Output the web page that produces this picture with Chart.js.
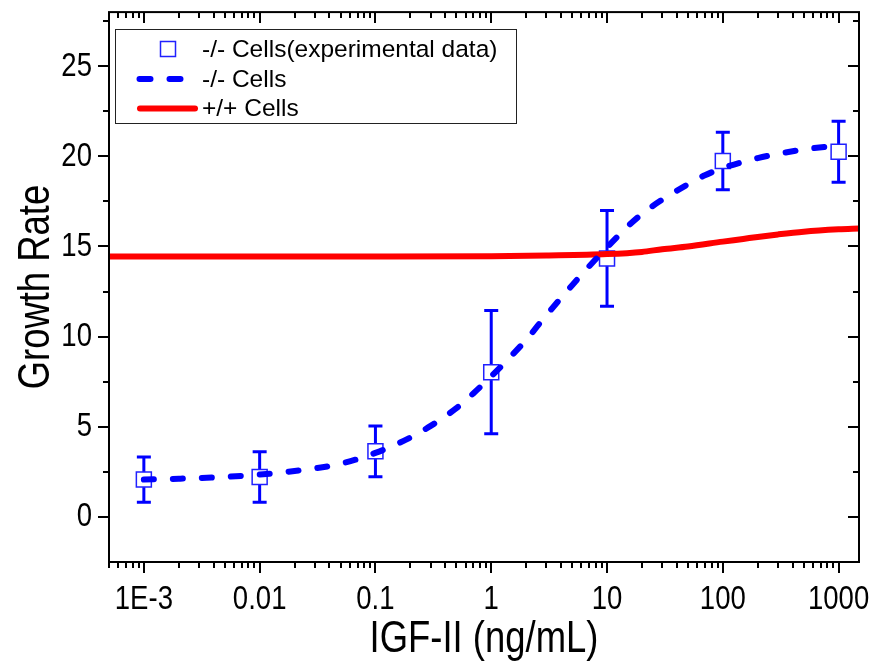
<!DOCTYPE html>
<html><head><meta charset="utf-8">
<script src="https://cdn.jsdelivr.net/npm/chart.js@4"></script>
<style>html,body{margin:0;padding:0;background:#fff}canvas{display:block}</style>
</head><body>
<canvas id="c" width="878" height="671"></canvas>
<script>
// Experimental data (-/- cells)
const expX = [0.001, 0.01, 0.1, 1, 10, 100, 1000];
const expY = [2.07, 2.22, 3.64, 8.03, 14.34, 19.74, 20.25];
const expErr = [1.25, 1.40, 1.41, 3.42, 2.65, 1.59, 1.69];
// Fitted curve -/- cells
const koX = [0.001, 0.002, 0.005, 0.01, 0.02, 0.05, 0.1, 0.2, 0.3, 0.5, 0.7, 1, 1.5, 2, 3, 5, 7, 10, 15, 20, 30, 50, 70, 100, 200, 500, 1000];
const koY = [2.07, 2.12, 2.22, 2.35, 2.55, 2.95, 3.55, 4.40, 5.05, 6.03, 6.85, 7.80, 8.95, 9.82, 11.20, 12.85, 13.90, 14.95, 16.10, 16.80, 17.60, 18.45, 18.95, 19.35, 19.90, 20.38, 20.60];
// Fitted curve +/+ cells
const wtX = [0.0005, 0.001, 0.01, 0.1, 1, 3, 10, 20, 30, 50, 100, 150, 200, 300, 500, 1000, 1500];
const wtY = [14.44, 14.44, 14.44, 14.45, 14.46, 14.50, 14.58, 14.70, 14.85, 15.00, 15.27, 15.42, 15.53, 15.67, 15.82, 15.95, 16.00];
// Axis ticks and texts
const xTickValues = [0.001, 0.01, 0.1, 1, 10, 100, 1000];
const xTickLabels = ['1E-3', '0.01', '0.1', '1', '10', '100', '1000'];
const yTickValues = [0, 5, 10, 15, 20, 25];
const yTickLabels = ['0', '5', '10', '15', '20', '25'];
const legendLabels = ['-/- Cells(experimental data)', '-/- Cells', '+/+ Cells'];
const xTitle = 'IGF-II (ng/mL)';
const yTitle = 'Growth Rate';

const FONT = "'Liberation Sans', Arial, sans-serif";
const BLUE = '#0000ff', RED = '#ff0000';
const SQX = 0.81; // condensed (Arial Narrow-like) axis text

const pts = (xs, ys) => xs.map((x, i) => ({x: x, y: ys[i]}));
const noPad = s => { s.paddingTop = 0; s.paddingBottom = 0; s.paddingLeft = 0; s.paddingRight = 0; };

function narrowText(ctx, text, x, y, size, align, baseline, rot) {
  ctx.save();
  ctx.translate(x, y);
  if (rot) ctx.rotate(rot);
  ctx.scale(SQX, 1);
  ctx.font = size + 'px ' + FONT;
  ctx.textAlign = align;
  ctx.textBaseline = baseline;
  ctx.fillStyle = '#000';
  ctx.fillText(text, 0, 0);
  ctx.restore();
}

const errorBars = {
  id: 'errorBars',
  beforeDatasetsDraw(chart) {
    const {ctx, scales: {x, y}} = chart;
    ctx.save();
    ctx.strokeStyle = BLUE;
    ctx.lineWidth = 3;
    ctx.lineCap = 'butt';
    for (let i = 0; i < expX.length; i++) {
      const px = x.getPixelForValue(expX[i]);
      const pt = y.getPixelForValue(expY[i] + expErr[i]);
      const pb = y.getPixelForValue(expY[i] - expErr[i]);
      ctx.beginPath();
      ctx.moveTo(px, pt); ctx.lineTo(px, pb);
      ctx.moveTo(px - 7, pt); ctx.lineTo(px + 7, pt);
      ctx.moveTo(px - 7, pb); ctx.lineTo(px + 7, pb);
      ctx.stroke();
    }
    ctx.restore();
  }
};

const frameTicks = {
  id: 'frameTicks',
  afterDraw(chart) {
    const {ctx, chartArea: a, scales: {x, y}} = chart;
    ctx.save();
    ctx.strokeStyle = '#000';
    ctx.lineWidth = 2;
    ctx.strokeRect(a.left, a.top, a.right - a.left, a.bottom - a.top);
    ctx.beginPath();
    for (let e = -4; e <= 3; e++) {
      for (let m = 1; m <= 9; m++) {
        const v = m * Math.pow(10, e);
        if (v < x.min * 0.999 || v > x.max) continue;
        const px = Math.round(x.getPixelForValue(v));
        const len = m === 1 ? 11 : 6;
        ctx.moveTo(px, a.bottom); ctx.lineTo(px, a.bottom + len);
        ctx.moveTo(px, a.top); ctx.lineTo(px, a.top + len);
      }
    }
    for (let v = 0; v <= 27.5; v += 2.5) {
      const py = Math.round(y.getPixelForValue(v));
      const len = (v % 5 === 0) ? 11 : 6;
      ctx.moveTo(a.left, py); ctx.lineTo(a.left - len, py);
      ctx.moveTo(a.right, py); ctx.lineTo(a.right - len, py);
    }
    ctx.stroke();

    // tick labels and axis titles (condensed face)
    xTickValues.forEach((v, i) => narrowText(ctx, xTickLabels[i], x.getPixelForValue(v), 609, 34, 'center', 'alphabetic'));
    yTickValues.forEach((v, i) => narrowText(ctx, yTickLabels[i], 92, y.getPixelForValue(v), 34, 'right', 'middle'));
    narrowText(ctx, xTitle, (a.left + a.right) / 2, 652, 45, 'center', 'alphabetic');
    narrowText(ctx, yTitle, 49, (a.top + a.bottom) / 2, 45, 'center', 'alphabetic', -Math.PI / 2);

    // legend
    const L = 115.5, T = 29.5, R = 516.5, B = 123.5;
    ctx.fillStyle = '#fff';
    ctx.fillRect(L, T, R - L, B - T);
    ctx.lineWidth = 1;
    ctx.strokeStyle = '#222';
    ctx.strokeRect(L, T, R - L, B - T);
    const rows = [49, 79, 108.5];
    ctx.strokeStyle = '#2020ff';
    ctx.lineWidth = 1.5;
    ctx.strokeRect(160.5, rows[0] - 7.5, 15, 15);
    ctx.strokeStyle = BLUE;
    ctx.lineWidth = 6;
    ctx.lineCap = 'round';
    ctx.beginPath();
    ctx.moveTo(139.5, rows[1]); ctx.lineTo(150.5, rows[1]);
    ctx.moveTo(169.5, rows[1]); ctx.lineTo(180.5, rows[1]);
    ctx.stroke();
    ctx.strokeStyle = RED;
    ctx.beginPath();
    ctx.moveTo(140, rows[2]); ctx.lineTo(195, rows[2]);
    ctx.stroke();
    ctx.fillStyle = '#000';
    ctx.font = '24.5px ' + FONT;
    ctx.textBaseline = 'middle';
    ctx.textAlign = 'left';
    for (let i = 0; i < legendLabels.length; i++) {
      ctx.fillText(legendLabels[i], 202, rows[i] + 1);
    }
    ctx.restore();
  }
};

new Chart(document.getElementById('c'), {
  type: 'scatter',
  data: {
    datasets: [
      {
        label: legendLabels[1], data: pts(koX, koY), showLine: true,
        borderColor: BLUE, borderWidth: 6, borderDash: [10, 19], borderCapStyle: 'round',
        cubicInterpolationMode: 'monotone', pointRadius: 0, fill: false
      },
      {
        label: legendLabels[2], data: pts(wtX, wtY), showLine: true,
        borderColor: RED, borderWidth: 6, cubicInterpolationMode: 'monotone',
        pointRadius: 0, fill: false
      },
      {
        label: legendLabels[0], data: pts(expX, expY), showLine: false,
        pointStyle: 'rect', pointRadius: 10.6, backgroundColor: '#fff',
        borderColor: '#2020ff', borderWidth: 1.5
      }
    ]
  },
  options: {
    responsive: false, animation: false, devicePixelRatio: 1,
    layout: {padding: {top: 8, right: 19, left: 0, bottom: 0}},
    plugins: {legend: {display: false}, tooltip: {enabled: false}},
    scales: {
      x: {
        type: 'logarithmic', position: 'bottom', min: 0.0005, max: 1500,
        grid: {display: false}, border: {display: false},
        afterBuildTicks: s => { s.ticks = xTickValues.map(v => ({value: v})); },
        afterFit: s => { s.height = 109; noPad(s); },
        ticks: {display: false},
        title: {display: false, text: xTitle}
      },
      y: {
        type: 'linear', position: 'left', min: -2.5, max: 28,
        grid: {display: false}, border: {display: false},
        afterBuildTicks: s => { s.ticks = yTickValues.map(v => ({value: v})); },
        afterFit: s => { s.width = 109; noPad(s); },
        ticks: {display: false},
        title: {display: false, text: yTitle}
      }
    }
  },
  plugins: [errorBars, frameTicks]
});
</script>
</body></html>
